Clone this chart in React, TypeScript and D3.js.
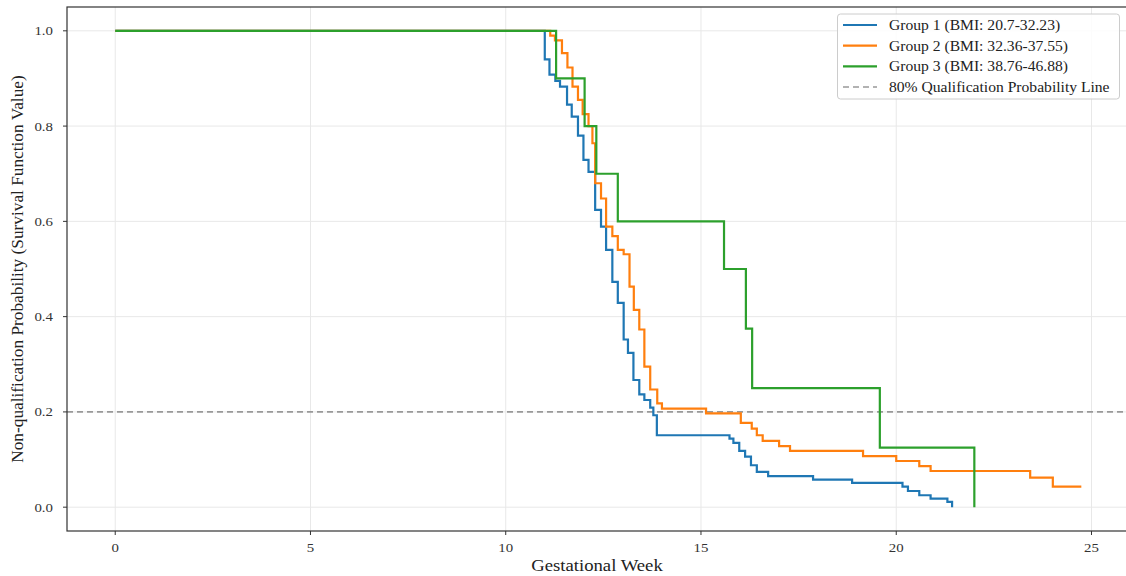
import React from "react";
import * as d3 from "d3";

// survival steps (week, value)
const g1Weeks = [0, 11.0, 11.12, 11.27, 11.39, 11.57, 11.69, 11.85, 11.99, 12.12, 12.29, 12.44, 12.57, 12.73, 12.87, 13.02, 13.13, 13.27, 13.42, 13.55, 13.7, 13.78, 13.87, 15.73, 15.83, 15.98, 16.13, 16.28, 16.43, 16.72, 17.87, 18.87, 20.16, 20.3, 20.59, 20.88, 21.31, 21.43];
const g1Surv = [1.0, 0.94, 0.908, 0.895, 0.883, 0.845, 0.82, 0.78, 0.729, 0.704, 0.624, 0.589, 0.54, 0.473, 0.429, 0.352, 0.324, 0.267, 0.237, 0.225, 0.209, 0.193, 0.151, 0.144, 0.135, 0.118, 0.106, 0.088, 0.074, 0.065, 0.058, 0.051, 0.043, 0.034, 0.025, 0.018, 0.011, 0.0];

const g2Weeks = [0, 11.14, 11.26, 11.44, 11.58, 11.71, 11.85, 11.97, 12.12, 12.22, 12.29, 12.44, 12.57, 12.73, 12.87, 13.02, 13.17, 13.28, 13.42, 13.55, 13.7, 13.88, 14.0, 15.13, 16.02, 16.3, 16.43, 16.58, 17.0, 17.28, 19.15, 20.0, 20.59, 20.88, 23.43, 24.01, 24.74];
const g2Surv = [1.0, 0.99, 0.98, 0.953, 0.923, 0.883, 0.855, 0.825, 0.8, 0.764, 0.68, 0.648, 0.589, 0.569, 0.54, 0.531, 0.463, 0.414, 0.373, 0.295, 0.247, 0.218, 0.207, 0.197, 0.177, 0.165, 0.151, 0.139, 0.128, 0.118, 0.107, 0.097, 0.086, 0.076, 0.062, 0.043, 0.043];

const g3Weeks = [0, 11.29, 12.02, 12.32, 12.87, 15.59, 16.15, 16.31, 19.58, 22.0];
const g3Surv = [1.0, 0.9, 0.8, 0.7, 0.6, 0.5, 0.375, 0.25, 0.125, 0.0];

const groupNames = ["Group 1 (BMI: 20.7-32.23)", "Group 2 (BMI: 32.36-37.55)", "Group 3 (BMI: 38.76-46.88)"];
const groupColors = ["#1f77b4", "#ff7f0e", "#2ca02c"];
const thresholdLabel = "80% Qualification Probability Line";
const threshold = 0.2;

const xTicks = [0, 5, 10, 15, 20, 25];
const yTicks = [0, 0.2, 0.4, 0.6, 0.8, 1.0];

const W = 1126;
const H = 576;
const font = "'Liberation Serif', 'Times New Roman', serif";
const stretch = 1.1; // the picture's text looks a bit wide

// horizontal text, slightly stretched around its anchor
const Txt = ({ x, y, size, anchor = "start", fill = "#222", children }: any) => (
  <text transform={`translate(${x},${y}) scale(${stretch},1)`} textAnchor={anchor} fontSize={size} fill={fill}>
    {children}
  </text>
);

export default function App() {
  const x = d3.scaleLinear().domain([-1.235, 25.935]).range([67, 1128]);
  const y = d3.scaleLinear().domain([-0.05, 1.05]).range([531, 7]);

  const series = [
    g1Weeks.map((w, i) => [w, g1Surv[i]] as [number, number]),
    g2Weeks.map((w, i) => [w, g2Surv[i]] as [number, number]),
    g3Weeks.map((w, i) => [w, g3Surv[i]] as [number, number]),
  ];

  const line = d3
    .line<[number, number]>()
    .x((d) => x(d[0]))
    .y((d) => y(d[1]))
    .curve(d3.curveStepAfter);

  const [x0, x1] = x.range();
  const [y0, y1] = y.range();

  return (
    <svg width={W} height={H} style={{ position: "absolute", left: 0, top: 0, background: "#fff" }} fontFamily={font}>
      {/* grid */}
      {xTicks.map((t) => (
        <line key={"gx" + t} x1={x(t)} x2={x(t)} y1={y1} y2={y0} stroke="#e8e8e8" strokeWidth={1} />
      ))}
      {yTicks.map((t) => (
        <line key={"gy" + t} x1={x0} x2={x1} y1={y(t)} y2={y(t)} stroke="#e8e8e8" strokeWidth={1} />
      ))}

      {/* threshold */}
      <line x1={x0} x2={x1} y1={y(threshold)} y2={y(threshold)} stroke="#999" strokeWidth={1.6} strokeDasharray="6,4" />

      {/* survival curves */}
      {series.map((s, i) => (
        <path key={i} d={line(s) || ""} fill="none" stroke={groupColors[i]} strokeWidth={2.2} />
      ))}

      {/* frame */}
      <rect x={x0} y={y1} width={x1 - x0} height={y0 - y1} fill="none" stroke="#333" strokeWidth={1.2} />

      {/* x axis */}
      {xTicks.map((t) => (
        <g key={"tx" + t}>
          <line x1={x(t)} x2={x(t)} y1={y0} y2={y0 + 4} stroke="#333" />
          <Txt x={x(t)} y={y0 + 21} size={13.5} anchor="middle" fill="#333">
            {t}
          </Txt>
        </g>
      ))}
      <Txt x={597} y={571} size={17} anchor="middle">
        Gestational Week
      </Txt>

      {/* y axis */}
      {yTicks.map((t) => (
        <g key={"ty" + t}>
          <line x1={x0 - 4} x2={x0} y1={y(t)} y2={y(t)} stroke="#333" />
          <Txt x={x0 - 14} y={y(t) + 4.5} size={13.5} anchor="end" fill="#333">
            {t.toFixed(1)}
          </Txt>
        </g>
      ))}
      <text transform={`translate(23,${(y0 + y1) / 2}) rotate(-90)`} textAnchor="middle" fontSize={17.3} fill="#222">
        Non-qualification Probability (Survival Function Value)
      </text>

      {/* legend */}
      <g>
        <rect x={837.5} y={14} width={282} height={85} rx={3} fill="#fff" fillOpacity={0.85} stroke="#ccc" />
        {groupNames.map((n, i) => (
          <g key={n}>
            <line x1={843} x2={877} y1={25 + i * 20.7} y2={25 + i * 20.7} stroke={groupColors[i]} strokeWidth={2.2} />
            <Txt x={889} y={30 + i * 20.7} size={14.2}>
              {n}
            </Txt>
          </g>
        ))}
        <line x1={843} x2={877} y1={87} y2={87} stroke="#999" strokeWidth={1.6} strokeDasharray="6,4" />
        <Txt x={889} y={92} size={14.2}>
          {thresholdLabel}
        </Txt>
      </g>
    </svg>
  );
}
